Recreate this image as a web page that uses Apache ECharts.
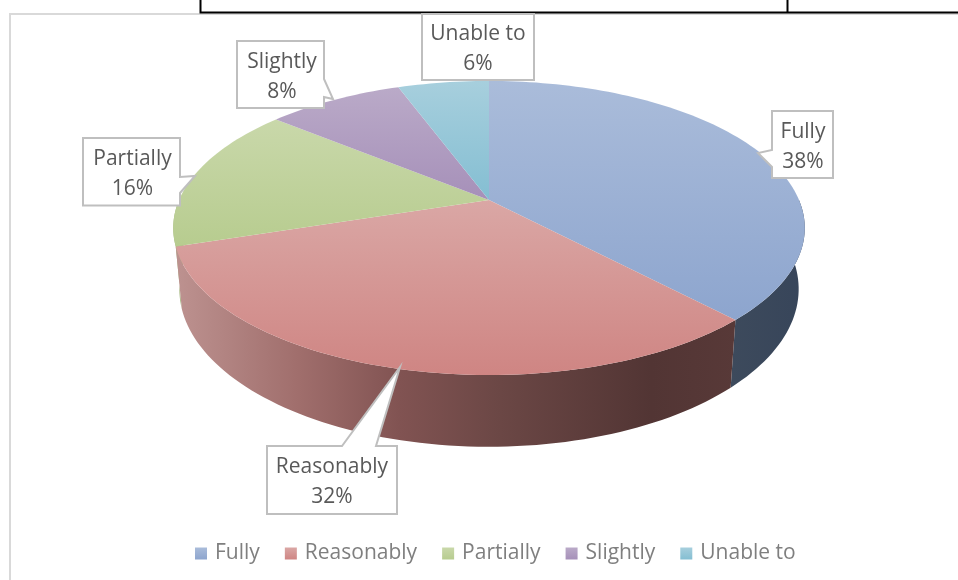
<!DOCTYPE html>
<html>
<head>
<meta charset="utf-8">
<style>
    html, body { margin: 0; padding: 0; background: #fff; }
    #chart { width: 958px; height: 580px; }
</style>
<script src="https://cdn.jsdelivr.net/npm/echarts@6/dist/echarts.min.js"></script>
</head>
<body>
<div id="chart"></div>
<script>
const categories = ['Fully', 'Reasonably', 'Partially', 'Slightly', 'Unable to'];
const shares = [38, 32, 16, 8.4, 5.6];

const topColors = [
    ['#aabcda', '#8da5ce'],
    ['#daa7a5', '#cf8583'],
    ['#c9d8aa', '#b7cc8f'],
    ['#baaac8', '#a690b9'],
    ['#a7cfdd', '#84bed2']
];
// 侧面颜色
const wallColors = [
    [[0, '#3d4a5c'], [1, '#37455a']],
    [[0, '#bd9290'], [0.22, '#a06e6c'], [0.4, '#815352'], [0.58, '#6b4745'], [0.85, '#523534'], [1, '#583938']],
    [[0, '#a3b67e'], [1, '#a3b67e']],
    [[0, '#7f7090'], [1, '#7f7090']],
    [[0, '#6a98a8'], [1, '#6a98a8']]
];

// 透视椭圆参数, lower* 是底面
const pie = { cx: 489, cy: 200, rx: 310, ry: 141.7, tilt: 0.1905, lowerDrop: 59, lowerRy: 152, lowerRx: 304 };
// 只有正面的侧壁看得见
const wallFrom = 90;
const wallTo = 270;
const total = shares.reduce((a, b) => a + b, 0);

function project(deg, lower) {
    const a = deg * Math.PI / 180;
    const u = Math.sin(a);
    const v = -Math.cos(a);
    const w = 1 - pie.tilt * v;
    if (lower) {
        return [pie.cx + pie.lowerRx * u / w, pie.cy + pie.lowerDrop + pie.lowerRy * v / w];
    }
    return [pie.cx + pie.rx * u / w, pie.cy + pie.ry * v / w];
}

function arcPoints(start, end, lower) {
    const pts = [];
    const n = Math.max(2, Math.ceil((end - start) / 1.5));
    for (let i = 0; i <= n; i++) {
        pts.push(project(start + (end - start) * i / n, lower));
    }
    return pts;
}

function sliceRange(idx) {
    let before = 0;
    for (let i = 0; i < idx; i++) before += shares[i];
    return [before / total * 360, (before + shares[idx]) / total * 360];
}

function gradient(horizontal, stops) {
    return {
        type: 'linear', x: 0, y: 0, x2: horizontal ? 1 : 0, y2: horizontal ? 0 : 1,
        colorStops: stops.map((s) => ({ offset: s[0], color: s[1] }))
    };
}

// 标注框: 文字中心 + 外框 + 指示角
const callouts = [
    { cx: 803, cy: 147.5, points: [[772, 111], [833, 111], [833, 178], [772, 178], [772, 167], [758, 153], [772, 150]] },
    { cx: 332, cy: 482.5, points: [[267, 446], [342, 446], [400, 367], [376, 446], [397, 446], [397, 514], [267, 514]] },
    { cx: 132.5, cy: 174.5, points: [[83, 138], [180, 138], [180, 177], [195, 176], [180, 193], [180, 205.5], [83, 205.5]] },
    { cx: 282, cy: 77, points: [[237, 41], [324, 41], [324, 79], [333, 99], [324, 97], [324, 108], [237, 108]] },
    { cx: 478, cy: 49.5, points: [[422, 14], [534, 14], [534, 80], [422, 80]] }
];
const labelFont = '"Open Sans", sans-serif';

function sliceSeries(idx) {
    return {
        type: 'custom',
        name: categories[idx],
        coordinateSystem: 'none',
        silent: true,
        z: idx < 2 ? 3 : 2,
        itemStyle: { color: topColors[idx][1] },
        data: [shares[idx]],
        renderItem: () => {
            const [start, end] = sliceRange(idx);
            const from = Math.max(start, wallFrom);
            const to = Math.min(end, wallTo);
            if (to <= from) {
                return { type: 'group', children: [] };
            }
            const upper = arcPoints(from, to, false);
            const lower = arcPoints(from, to, true).reverse();
            return {
                type: 'polygon',
                shape: { points: upper.concat(lower) },
                style: { fill: gradient(true, wallColors[idx]) }
            };
        }
    };
}

function topSeries(idx) {
    return {
        type: 'custom',
        coordinateSystem: 'none',
        silent: true,
        z: 4,
        data: [shares[idx]],
        renderItem: () => {
            const [start, end] = sliceRange(idx);
            return {
                type: 'polygon',
                shape: { points: [[pie.cx, pie.cy]].concat(arcPoints(start, end, false)) },
                style: { fill: gradient(false, [[0, topColors[idx][0]], [1, topColors[idx][1]]]) }
            };
        }
    };
}

const calloutSeries = {
    type: 'custom',
    coordinateSystem: 'none',
    silent: true,
    z: 6,
    data: categories,
    renderItem: (params) => {
        const i = params.dataIndex;
        const c = callouts[i];
        return {
            type: 'group',
            children: [
                { type: 'polygon', shape: { points: c.points }, style: { fill: '#fff', stroke: '#bfbfbf', lineWidth: 2 } },
                {
                    type: 'text',
                    style: {
                        x: c.cx, y: c.cy,
                        text: categories[i] + '\n' + Math.round(shares[i] / total * 100) + '%',
                        align: 'center', verticalAlign: 'middle',
                        fill: '#595959', font: '21px ' + labelFont, lineHeight: 30
                    }
                }
            ]
        };
    }
};

const chart = echarts.init(document.getElementById('chart'), null, { renderer: 'canvas' });
chart.setOption({
    animation: false,
    backgroundColor: '#fff',
    legend: {
        left: 190,
        top: 538,
        itemWidth: 12,
        itemHeight: 12,
        itemGap: 25,
        icon: 'rect',
        textStyle: { color: '#7f7f7f', fontFamily: labelFont, fontSize: 21, padding: [0, 0, 0, 3] },
        data: categories.map((name, i) => ({
            name,
            itemStyle: { color: gradient(false, [[0, topColors[i][0]], [1, topColors[i][1]]]) }
        }))
    },
    graphic: [
        { type: 'polyline', z: 1, shape: { points: [[10, 580], [10, 14], [958, 14]] }, style: { stroke: '#d9d9d9', lineWidth: 2, fill: null } },
        { type: 'polyline', z: 1, shape: { points: [[200.5, 0], [200.5, 12.5], [958, 12.5]] }, style: { stroke: '#000', lineWidth: 2, fill: null } },
        { type: 'line', z: 1, shape: { x1: 787.5, y1: 0, x2: 787.5, y2: 12 }, style: { stroke: '#000', lineWidth: 2 } }
    ],
    series: [2, 3, 4, 0, 1].map(sliceSeries)
        .concat([0, 1, 2, 3, 4].map(topSeries))
        .concat([calloutSeries])
});
</script>
</body>
</html>
